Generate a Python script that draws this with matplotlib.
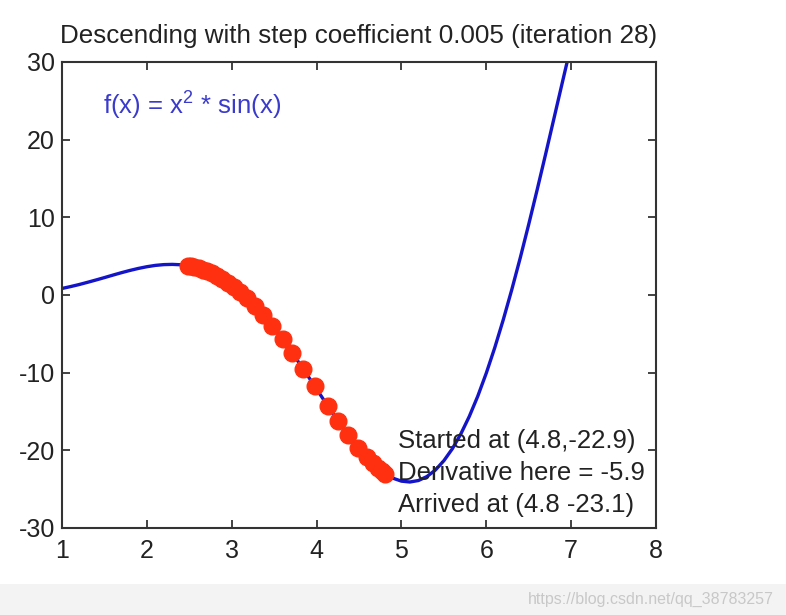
import matplotlib
matplotlib.use("Agg")
import matplotlib.pyplot as plt

# Curve f(x) = x^2 * sin(x)
curve_x = [1.0, 1.1, 1.2, 1.3, 1.4, 1.5, 1.6, 1.7, 1.8, 1.9,
           2.0, 2.1, 2.2, 2.3, 2.4, 2.5, 2.6, 2.7, 2.8, 2.9,
           3.0, 3.1, 3.2, 3.3, 3.4, 3.5, 3.6, 3.7, 3.8, 3.9,
           4.0, 4.1, 4.2, 4.3, 4.4, 4.5, 4.6, 4.7, 4.8, 4.9,
           5.0, 5.1, 5.2, 5.3, 5.4, 5.5, 5.6, 5.7, 5.8, 5.9,
           6.0, 6.1, 6.2, 6.3, 6.4, 6.5, 6.6, 6.7, 6.8, 6.9, 7.0]
curve_y = [0.84, 1.08, 1.34, 1.63, 1.93, 2.24, 2.56, 2.87, 3.16, 3.42,
           3.64, 3.81, 3.91, 3.94, 3.89, 3.74, 3.48, 3.12, 2.63, 2.01,
           1.27, 0.40, -0.60, -1.72, -2.95, -4.30, -5.73, -7.25, -8.84, -10.46,
           -12.11, -13.76, -15.37, -16.94, -18.42, -19.79, -21.03, -22.09, -22.95, -23.59,
           -23.97, -24.08, -23.89, -23.38, -22.54, -21.34, -19.80, -17.89, -15.63, -13.02,
           -10.06, -6.78, -3.19, 0.67, 4.77, 9.09, 13.57, 18.17, 22.85, 27.54, 32.19]

# Descent path points (iterations)
path_x = [2.48, 2.52, 2.56, 2.61, 2.66, 2.71, 2.77, 2.83, 2.89, 2.96,
          3.03, 3.10, 3.18, 3.27, 3.37, 3.48, 3.60, 3.71, 3.84, 3.98,
          4.13, 4.25, 4.37, 4.49, 4.59, 4.66, 4.72, 4.77, 4.81]
path_y = [3.78, 3.70, 3.60, 3.45, 3.28, 3.08, 2.79, 2.47, 2.08, 1.58,
          1.02, 0.40, -0.39, -1.37, -2.57, -4.02, -5.73, -7.41, -9.50, -11.78,
          -14.23, -16.17, -18.00, -19.66, -20.91, -21.69, -22.28, -22.71, -23.03]

title = "Descending with step coefficient 0.005 (iteration 28)"
func_label = r"f(x) = x$^2$ * sin(x)"
info_lines = ["Started at (4.8,-22.9)", "Derivative here = -5.9", "Arrived at (4.8 -23.1)"]
xticks = [1, 2, 3, 4, 5, 6, 7, 8]
yticks = [-30, -20, -10, 0, 10, 20, 30]

plt.rcParams['font.family'] = ['Liberation Sans', 'DejaVu Sans']
plt.rcParams['mathtext.fontset'] = 'custom'
plt.rcParams['mathtext.rm'] = 'Liberation Sans'
plt.rcParams['axes.unicode_minus'] = False

fig = plt.figure(figsize=(7.86, 6.15), dpi=100)
fig.patch.set_facecolor('white')
# light gray bottom strip like the screenshot
fig.patches.append(plt.Rectangle((0, 0), 1, 0.05, transform=fig.transFigure,
                                 facecolor='#f3f3f3', edgecolor='none', zorder=0))
ax = fig.add_axes([0.0789, 0.1415, 0.7557, 0.7577])

txt = '#222222'
ax.plot(curve_x, curve_y, color='#1414c8', lw=2.4, zorder=2)
ax.plot(path_x, path_y, 'o', color='#ff3010', ms=12, mec='#ff3010', zorder=3)

ax.set_xlim(1, 8)
ax.set_ylim(-30, 30)
ax.set_xticks(xticks)
ax.set_yticks(yticks)
ax.tick_params(direction='in', top=True, right=True, length=6, width=1.2,
               labelsize=18, colors=txt)
ax.tick_params(axis='x', pad=8)
ax.tick_params(axis='y', pad=5)
for s in ax.spines.values():
    s.set_linewidth(1.5)
    s.set_color('#333333')

ax.set_title(title, fontsize=18.7, color=txt, pad=14)
ax.text(1.48, 24.5, func_label, color='#3a3acc', fontsize=18.5, va='center', ha='left')
for i, line in enumerate(info_lines):
    ax.text(4.96, -18.8 - 4.1 * i, line, color=txt, fontsize=18.5, va='center', ha='left', zorder=4)

fig.text(0.985, 0.025, "https://blog.csdn.net/qq_38783257", color='#c8c8c8',
         fontsize=11.5, ha='right', va='center')

fig.savefig('out.png', dpi=100)
